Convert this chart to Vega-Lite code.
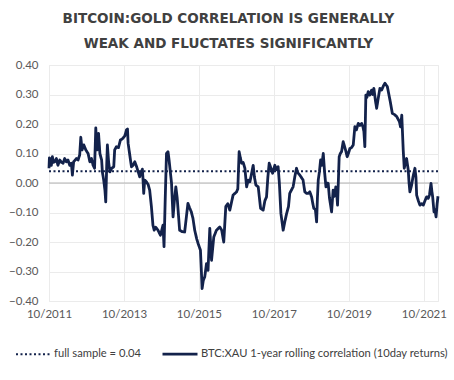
{
  "$schema": "https://vega.github.io/schema/vega-lite/v6.json",
  "width": 389,
  "height": 236,
  "autosize": {"type": "none"},
  "padding": {"left": 49, "top": 65, "right": 16, "bottom": 79},
  "background": "white",
  "title": {
    "text": ["BITCOIN:GOLD CORRELATION IS GENERALLY", "WEAK AND FLUCTATES SIGNIFICANTLY"],
    "font": "DejaVu Sans",
    "fontSize": 13.5,
    "fontWeight": "bold",
    "color": "#404040",
    "lineHeight": 25,
    "anchor": "middle",
    "frame": "group",
    "dx": -15,
    "offset": 9
  },
  "config": {
    "view": {"stroke": "#ebebeb"},
    "axis": {
      "labelFont": "Lato",
      "labelFontSize": 11.5,
      "labelColor": "#595959",
      "grid": true,
      "gridColor": "#ebebeb",
      "domain": false,
      "ticks": false,
      "title": null,
      "labelOverlap": false,
      "labelFlush": false
    },
    "legend": {
      "labelFont": "Lato",
      "labelFontSize": 11.2,
      "labelColor": "#404040",
      "labelLimit": 400
    }
  },
  "datasets": {
    "ref": [
      {"d": "2011-10-01", "v": 0.04, "s": "full sample = 0.04"},
      {"d": "2022-02-16", "v": 0.04, "s": "full sample = 0.04"}
    ],
    "btc": [
      {"d": "2011-10-01", "v": 0.05},
      {"d": "2011-10-05", "v": 0.085},
      {"d": "2011-10-08", "v": 0.083},
      {"d": "2011-10-16", "v": 0.06},
      {"d": "2011-10-24", "v": 0.06},
      {"d": "2011-11-03", "v": 0.089},
      {"d": "2011-11-14", "v": 0.07},
      {"d": "2011-11-26", "v": 0.072},
      {"d": "2011-12-12", "v": 0.083},
      {"d": "2011-12-27", "v": 0.06},
      {"d": "2012-01-14", "v": 0.078},
      {"d": "2012-01-30", "v": 0.07},
      {"d": "2012-02-15", "v": 0.067},
      {"d": "2012-03-02", "v": 0.083},
      {"d": "2012-03-18", "v": 0.072},
      {"d": "2012-04-03", "v": 0.078},
      {"d": "2012-04-20", "v": 0.06},
      {"d": "2012-05-06", "v": 0.067},
      {"d": "2012-05-16", "v": 0.027},
      {"d": "2012-05-28", "v": 0.072},
      {"d": "2012-06-24", "v": 0.083},
      {"d": "2012-07-10", "v": 0.078},
      {"d": "2012-07-26", "v": 0.095},
      {"d": "2012-08-06", "v": 0.155},
      {"d": "2012-08-18", "v": 0.112},
      {"d": "2012-09-04", "v": 0.129},
      {"d": "2012-09-24", "v": 0.112},
      {"d": "2012-10-16", "v": 0.1},
      {"d": "2012-11-02", "v": 0.072},
      {"d": "2012-11-18", "v": 0.083},
      {"d": "2012-12-04", "v": 0.06},
      {"d": "2012-12-18", "v": 0.05},
      {"d": "2012-12-30", "v": 0.187},
      {"d": "2013-01-05", "v": 0.14},
      {"d": "2013-01-12", "v": 0.112},
      {"d": "2013-01-26", "v": 0.168},
      {"d": "2013-02-08", "v": 0.1},
      {"d": "2013-02-25", "v": 0.078},
      {"d": "2013-03-04", "v": 0.038},
      {"d": "2013-03-17", "v": 0.01},
      {"d": "2013-03-29", "v": -0.024},
      {"d": "2013-04-06", "v": -0.064},
      {"d": "2013-04-16", "v": 0.067},
      {"d": "2013-04-22", "v": 0.129},
      {"d": "2013-05-05", "v": 0.067},
      {"d": "2013-05-17", "v": 0.038},
      {"d": "2013-06-03", "v": 0.05},
      {"d": "2013-06-23", "v": 0.055},
      {"d": "2013-07-02", "v": 0.112},
      {"d": "2013-07-19", "v": 0.123},
      {"d": "2013-08-08", "v": 0.12},
      {"d": "2013-08-27", "v": 0.146},
      {"d": "2013-09-16", "v": 0.15},
      {"d": "2013-10-09", "v": 0.16},
      {"d": "2013-10-25", "v": 0.18},
      {"d": "2013-11-04", "v": 0.183},
      {"d": "2013-11-10", "v": 0.135},
      {"d": "2013-12-03", "v": 0.078},
      {"d": "2013-12-13", "v": 0.055},
      {"d": "2013-12-28", "v": 0.06},
      {"d": "2014-01-14", "v": 0.072},
      {"d": "2014-02-01", "v": 0.055},
      {"d": "2014-02-16", "v": 0.038},
      {"d": "2014-03-03", "v": 0.021},
      {"d": "2014-03-29", "v": 0.047},
      {"d": "2014-04-03", "v": 0.02},
      {"d": "2014-04-11", "v": -0.035},
      {"d": "2014-04-21", "v": 0.01},
      {"d": "2014-05-07", "v": 0.004},
      {"d": "2014-05-24", "v": -0.005},
      {"d": "2014-06-08", "v": -0.024},
      {"d": "2014-06-25", "v": -0.08},
      {"d": "2014-07-10", "v": -0.143},
      {"d": "2014-07-22", "v": -0.16},
      {"d": "2014-08-06", "v": -0.15},
      {"d": "2014-08-28", "v": -0.16},
      {"d": "2014-09-21", "v": -0.177},
      {"d": "2014-10-16", "v": -0.143},
      {"d": "2014-10-26", "v": -0.216},
      {"d": "2014-11-07", "v": -0.05},
      {"d": "2014-11-19", "v": 0.1},
      {"d": "2014-12-04", "v": 0.106},
      {"d": "2014-12-14", "v": 0.078},
      {"d": "2015-01-07", "v": 0.0},
      {"d": "2015-01-22", "v": -0.115},
      {"d": "2015-02-04", "v": -0.06},
      {"d": "2015-02-18", "v": -0.013},
      {"d": "2015-03-03", "v": -0.05},
      {"d": "2015-03-27", "v": -0.16},
      {"d": "2015-04-21", "v": -0.165},
      {"d": "2015-05-15", "v": -0.166},
      {"d": "2015-06-16", "v": -0.069},
      {"d": "2015-07-03", "v": -0.085},
      {"d": "2015-07-19", "v": -0.098},
      {"d": "2015-08-04", "v": -0.12},
      {"d": "2015-08-21", "v": -0.16},
      {"d": "2015-09-10", "v": -0.19},
      {"d": "2015-09-23", "v": -0.205},
      {"d": "2015-10-16", "v": -0.228},
      {"d": "2015-10-24", "v": -0.29},
      {"d": "2015-11-01", "v": -0.358},
      {"d": "2015-11-13", "v": -0.33},
      {"d": "2015-11-27", "v": -0.318},
      {"d": "2015-12-14", "v": -0.273},
      {"d": "2015-12-29", "v": -0.296},
      {"d": "2016-01-07", "v": -0.22},
      {"d": "2016-01-15", "v": -0.154},
      {"d": "2016-02-01", "v": -0.262},
      {"d": "2016-02-23", "v": -0.183},
      {"d": "2016-03-20", "v": -0.16},
      {"d": "2016-04-21", "v": -0.149},
      {"d": "2016-05-10", "v": -0.16},
      {"d": "2016-05-30", "v": -0.2},
      {"d": "2016-06-19", "v": -0.08},
      {"d": "2016-07-08", "v": -0.07},
      {"d": "2016-07-28", "v": -0.092},
      {"d": "2016-08-29", "v": -0.041},
      {"d": "2016-10-02", "v": -0.03},
      {"d": "2016-10-14", "v": -0.02},
      {"d": "2016-10-27", "v": 0.106},
      {"d": "2016-11-08", "v": 0.085},
      {"d": "2016-11-20", "v": 0.067},
      {"d": "2016-12-05", "v": 0.07},
      {"d": "2016-12-22", "v": 0.05},
      {"d": "2017-01-08", "v": -0.013},
      {"d": "2017-01-24", "v": 0.01},
      {"d": "2017-02-09", "v": 0.004},
      {"d": "2017-02-24", "v": 0.03},
      {"d": "2017-03-13", "v": 0.06},
      {"d": "2017-03-25", "v": 0.02},
      {"d": "2017-04-08", "v": -0.007},
      {"d": "2017-05-01", "v": -0.013},
      {"d": "2017-05-24", "v": -0.086},
      {"d": "2017-06-18", "v": -0.092},
      {"d": "2017-07-05", "v": -0.06},
      {"d": "2017-07-21", "v": -0.047},
      {"d": "2017-08-03", "v": 0.02},
      {"d": "2017-08-16", "v": 0.067},
      {"d": "2017-09-02", "v": 0.05},
      {"d": "2017-09-18", "v": 0.033},
      {"d": "2017-10-10", "v": 0.06},
      {"d": "2017-10-25", "v": 0.045},
      {"d": "2017-11-11", "v": 0.055},
      {"d": "2017-11-23", "v": 0.0},
      {"d": "2017-12-08", "v": -0.103},
      {"d": "2017-12-30", "v": -0.16},
      {"d": "2018-01-16", "v": -0.13},
      {"d": "2018-02-02", "v": -0.103},
      {"d": "2018-02-20", "v": -0.08},
      {"d": "2018-03-04", "v": -0.035},
      {"d": "2018-04-06", "v": -0.013},
      {"d": "2018-04-22", "v": 0.02},
      {"d": "2018-05-09", "v": 0.05},
      {"d": "2018-05-21", "v": 0.035},
      {"d": "2018-06-10", "v": 0.027},
      {"d": "2018-07-12", "v": 0.01},
      {"d": "2018-07-29", "v": -0.03},
      {"d": "2018-08-15", "v": -0.035},
      {"d": "2018-08-30", "v": -0.035},
      {"d": "2018-09-16", "v": -0.03},
      {"d": "2018-10-03", "v": -0.047},
      {"d": "2018-10-15", "v": -0.07},
      {"d": "2018-10-25", "v": -0.086},
      {"d": "2018-11-09", "v": -0.09},
      {"d": "2018-11-21", "v": -0.132},
      {"d": "2018-11-29", "v": -0.05},
      {"d": "2018-12-07", "v": 0.01},
      {"d": "2018-12-19", "v": 0.04},
      {"d": "2018-12-30", "v": 0.078},
      {"d": "2019-01-11", "v": 0.06},
      {"d": "2019-01-25", "v": 0.1},
      {"d": "2019-02-06", "v": 0.04},
      {"d": "2019-02-20", "v": -0.013},
      {"d": "2019-03-02", "v": 0.0},
      {"d": "2019-03-14", "v": -0.001},
      {"d": "2019-03-26", "v": -0.05},
      {"d": "2019-04-04", "v": -0.07},
      {"d": "2019-04-16", "v": -0.098},
      {"d": "2019-05-01", "v": -0.024},
      {"d": "2019-05-13", "v": -0.045},
      {"d": "2019-05-27", "v": -0.013},
      {"d": "2019-06-06", "v": -0.04},
      {"d": "2019-06-13", "v": -0.075},
      {"d": "2019-06-29", "v": 0.089},
      {"d": "2019-07-10", "v": 0.1},
      {"d": "2019-07-22", "v": 0.106},
      {"d": "2019-08-07", "v": 0.14},
      {"d": "2019-08-30", "v": 0.112},
      {"d": "2019-09-15", "v": 0.089},
      {"d": "2019-09-27", "v": 0.1},
      {"d": "2019-10-11", "v": 0.117},
      {"d": "2019-10-28", "v": 0.12},
      {"d": "2019-11-13", "v": 0.129},
      {"d": "2019-11-29", "v": 0.191},
      {"d": "2019-12-14", "v": 0.18},
      {"d": "2020-01-01", "v": 0.202},
      {"d": "2020-01-17", "v": 0.195},
      {"d": "2020-02-03", "v": 0.202},
      {"d": "2020-02-16", "v": 0.19},
      {"d": "2020-02-25", "v": 0.174},
      {"d": "2020-03-05", "v": 0.123},
      {"d": "2020-03-15", "v": 0.298},
      {"d": "2020-03-25", "v": 0.29},
      {"d": "2020-04-07", "v": 0.31},
      {"d": "2020-04-23", "v": 0.298},
      {"d": "2020-05-10", "v": 0.315},
      {"d": "2020-05-22", "v": 0.3},
      {"d": "2020-06-01", "v": 0.321},
      {"d": "2020-06-16", "v": 0.28},
      {"d": "2020-06-28", "v": 0.253},
      {"d": "2020-07-10", "v": 0.28},
      {"d": "2020-07-30", "v": 0.321},
      {"d": "2020-08-16", "v": 0.315},
      {"d": "2020-09-03", "v": 0.33},
      {"d": "2020-09-17", "v": 0.338},
      {"d": "2020-10-10", "v": 0.327},
      {"d": "2020-11-05", "v": 0.281},
      {"d": "2020-11-28", "v": 0.236},
      {"d": "2020-12-19", "v": 0.232},
      {"d": "2021-01-10", "v": 0.225},
      {"d": "2021-02-05", "v": 0.208},
      {"d": "2021-02-16", "v": 0.19},
      {"d": "2021-02-28", "v": 0.23},
      {"d": "2021-03-14", "v": 0.112},
      {"d": "2021-03-24", "v": 0.05},
      {"d": "2021-04-05", "v": 0.07},
      {"d": "2021-04-16", "v": 0.083},
      {"d": "2021-05-02", "v": 0.044},
      {"d": "2021-05-10", "v": 0.0},
      {"d": "2021-05-18", "v": -0.03},
      {"d": "2021-06-02", "v": -0.01},
      {"d": "2021-06-17", "v": 0.02},
      {"d": "2021-07-06", "v": 0.05},
      {"d": "2021-07-16", "v": 0.02},
      {"d": "2021-07-23", "v": -0.041},
      {"d": "2021-08-08", "v": -0.06},
      {"d": "2021-08-24", "v": -0.075},
      {"d": "2021-09-08", "v": -0.07},
      {"d": "2021-09-26", "v": -0.075},
      {"d": "2021-10-12", "v": -0.06},
      {"d": "2021-10-28", "v": -0.047},
      {"d": "2021-11-13", "v": -0.052},
      {"d": "2021-11-25", "v": -0.04},
      {"d": "2021-12-10", "v": -0.001},
      {"d": "2021-12-19", "v": -0.03},
      {"d": "2021-12-26", "v": -0.047},
      {"d": "2022-01-08", "v": -0.098},
      {"d": "2022-01-18", "v": -0.09},
      {"d": "2022-01-28", "v": -0.115},
      {"d": "2022-02-08", "v": -0.069},
      {"d": "2022-02-16", "v": -0.045}
    ]
  },
  "layer": [
    {
      "data": {"values": [{"z": 0}]},
      "mark": {"type": "rule", "color": "#b3b3b3", "strokeWidth": 1},
      "encoding": {
        "y": {"field": "z", "type": "quantitative", "scale": {"domain": [-0.4, 0.4]},
          "axis": {"values": [-0.4, -0.3, -0.2, -0.1, 0, 0.1, 0.2, 0.3, 0.4], "format": ".2f", "labelPadding": 11}}
      }
    },
    {
      "data": {"name": "ref"},
      "mark": {"type": "line"},
      "encoding": {
        "x": {"field": "d", "type": "temporal",
          "scale": {"type": "utc", "domain": [{"year": 2011, "month": 10, "date": 1, "utc": true}, {"year": 2022, "month": 2, "date": 16, "utc": true}]},
          "axis": {"values": [
            {"year": 2011, "month": 10, "date": 1, "utc": true},
            {"year": 2013, "month": 10, "date": 1, "utc": true},
            {"year": 2015, "month": 10, "date": 1, "utc": true},
            {"year": 2017, "month": 10, "date": 1, "utc": true},
            {"year": 2019, "month": 10, "date": 1, "utc": true},
            {"year": 2021, "month": 10, "date": 1, "utc": true}
          ], "labelExpr": "utcFormat(datum.value, '%m/%Y')", "labelPadding": 7}},
        "y": {"field": "v", "type": "quantitative",
          "axis": {"values": [-0.4, -0.3, -0.2, -0.1, 0, 0.1, 0.2, 0.3, 0.4], "format": ".2f", "labelPadding": 11}},
        "color": {"field": "s", "type": "nominal",
          "scale": {"domain": ["full sample = 0.04", "BTC:XAU 1-year rolling correlation (10day returns)"], "range": ["#13224b", "#13224b"]},
          "legend": {"title": null, "orient": "none", "direction": "horizontal", "legendX": -34, "legendY": 270,
            "symbolType": "stroke", "symbolSize": 1225, "labelOffset": 2, "columnPadding": 14}},
        "strokeDash": {"field": "s", "type": "nominal",
          "scale": {"domain": ["full sample = 0.04", "BTC:XAU 1-year rolling correlation (10day returns)"], "range": [[2, 2.5], [1, 0]]}},
        "strokeWidth": {"field": "s", "type": "nominal",
          "scale": {"domain": ["full sample = 0.04", "BTC:XAU 1-year rolling correlation (10day returns)"], "range": [2, 2.8]}}
      }
    },
    {
      "data": {"name": "btc"},
      "transform": [{"calculate": "'BTC:XAU 1-year rolling correlation (10day returns)'", "as": "s"}],
      "mark": {"type": "line", "strokeJoin": "round"},
      "encoding": {
        "x": {"field": "d", "type": "temporal",
          "axis": {"values": [
            {"year": 2011, "month": 10, "date": 1, "utc": true},
            {"year": 2013, "month": 10, "date": 1, "utc": true},
            {"year": 2015, "month": 10, "date": 1, "utc": true},
            {"year": 2017, "month": 10, "date": 1, "utc": true},
            {"year": 2019, "month": 10, "date": 1, "utc": true},
            {"year": 2021, "month": 10, "date": 1, "utc": true}
          ], "labelExpr": "utcFormat(datum.value, '%m/%Y')", "labelPadding": 7}},
        "y": {"field": "v", "type": "quantitative",
          "axis": {"values": [-0.4, -0.3, -0.2, -0.1, 0, 0.1, 0.2, 0.3, 0.4], "format": ".2f", "labelPadding": 11}},
        "color": {"field": "s", "type": "nominal"},
        "strokeDash": {"field": "s", "type": "nominal"},
        "strokeWidth": {"field": "s", "type": "nominal"}
      }
    }
  ]
}
